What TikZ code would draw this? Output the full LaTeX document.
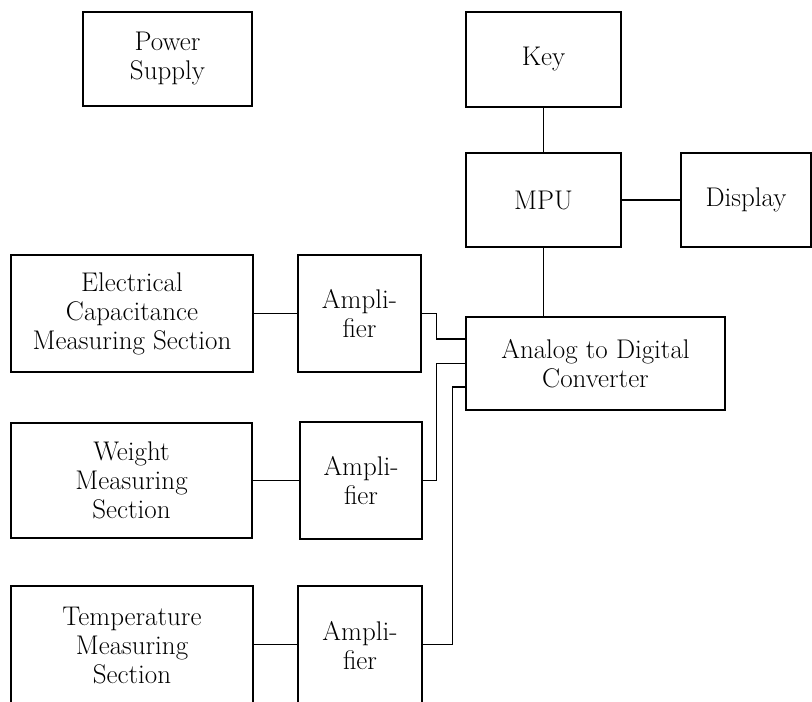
\documentclass[tikz,border=0pt]{standalone}
\usetikzlibrary{calc}
\begin{document}
\begin{tikzpicture}[x=1pt,y=-1pt,
  blk/.style={draw,line width=1.4pt,rectangle,inner sep=0pt,align=center,
    font=\fontsize{27}{29}\selectfont},
  wire/.style={line width=1.4pt}]
\useasboundingbox (0,0) rectangle (812,702);
\node[blk,minimum width=169,minimum height=94] (ps) at (167.5,59) {Power\\Supply};
\node[blk,minimum width=155,minimum height=95] (key) at (543.5,59.5) {Key};
\node[blk,minimum width=155,minimum height=94] (mpu) at (543.5,200) {MPU};
\node[blk,minimum width=130,minimum height=94] (disp) at (746,200) {Display};
\node[blk,minimum width=242,minimum height=117] (ec) at (132,313.5) {Electrical\\Capacitance\\Measuring Section};
\node[blk,minimum width=123,minimum height=117] (a1) at (359.5,313.5) {Ampli-\\fier};
\node[blk,minimum width=259,minimum height=93] (adc) at (595.5,363.5) {Analog to Digital\\Converter};
\node[blk,minimum width=241,minimum height=115] (wt) at (131.5,480.5) {Weight\\Measuring\\Section};
\node[blk,minimum width=122,minimum height=117] (a2) at (361,480.5) {Ampli-\\fier};
\node[blk,minimum width=242,minimum height=120] (tp) at (132,646) {Temperature\\Measuring\\Section};
\node[blk,minimum width=124,minimum height=120] (a3) at (360,646) {Ampli-\\fier};
\draw[wire] (key.south) -- (mpu.north);
\draw[wire] (mpu.east) -- (disp.west);
\draw[wire] (mpu.south) -- (mpu.south |- adc.north);
\draw[wire] (ec.east) -- (a1.west);
\draw[wire] (wt.east) -- (a2.west);
\draw[wire] ([yshift=1.5pt]tp.east) -- ([yshift=1.5pt]a3.west);
\draw[wire] (a1.east) -- ++(15,0) |- ([yshift=24.5pt]adc.west);
\draw[wire] (a2.east) -- ++(14,0) |- (adc.west);
\draw[wire] ([yshift=1.5pt]a3.east) -- ++(30,0) |- ([yshift=-23.5pt]adc.west);
\end{tikzpicture}
\end{document}
